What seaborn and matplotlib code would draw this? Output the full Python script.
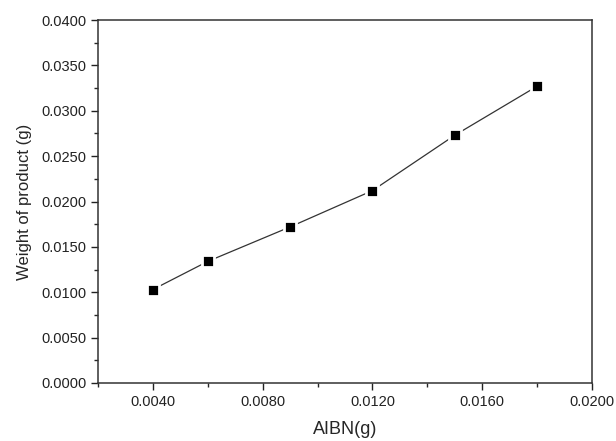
import matplotlib
matplotlib.use("Agg")
import matplotlib.pyplot as plt
import seaborn as sns
import pandas as pd
from matplotlib.ticker import MultipleLocator, FormatStrFormatter

aibn = [0.004, 0.006, 0.009, 0.012, 0.015, 0.018]
weight = [0.0103, 0.0134, 0.0172, 0.0212, 0.0273, 0.0327]

sns.set_style("ticks")
plt.rcParams['font.family'] = ['Liberation Sans', 'DejaVu Sans']

df = pd.DataFrame({"AIBN(g)": aibn, "Weight of product (g)": weight})

fig = plt.figure(figsize=(6.16, 4.41), dpi=100)
ax = fig.add_axes([98/616, 58/441, (592-98)/616, (383-20)/441])
sns.lineplot(data=df, x="AIBN(g)", y="Weight of product (g)", ax=ax,
             color="#333333", linewidth=0.9, marker="s", markersize=9,
             markerfacecolor="black", markeredgecolor="white",
             markeredgewidth=2.0)

ax.set_xlim(0.002, 0.020)
ax.set_ylim(0.0, 0.040)
ax.xaxis.set_major_locator(MultipleLocator(0.004))
ax.xaxis.set_minor_locator(MultipleLocator(0.002))
ax.yaxis.set_major_locator(MultipleLocator(0.005))
ax.yaxis.set_minor_locator(MultipleLocator(0.0025))
ax.xaxis.set_major_formatter(FormatStrFormatter('%.4f'))
ax.yaxis.set_major_formatter(FormatStrFormatter('%.4f'))
ax.set_xticks([0.004, 0.008, 0.012, 0.016, 0.020])
ax.tick_params(which='major', direction='out', length=5, width=1, labelsize=10.5, colors='#222222')
ax.tick_params(which='minor', direction='out', length=3, width=1)
for s in ax.spines.values():
    s.set_visible(True)
    s.set_linewidth(1.1)
    s.set_color('#333333')
ax.set_xlabel("AIBN(g)", fontsize=13, labelpad=9)
ax.set_ylabel("Weight of product (g)", fontsize=12, labelpad=6.5)

fig.savefig("out.png", dpi=100)
